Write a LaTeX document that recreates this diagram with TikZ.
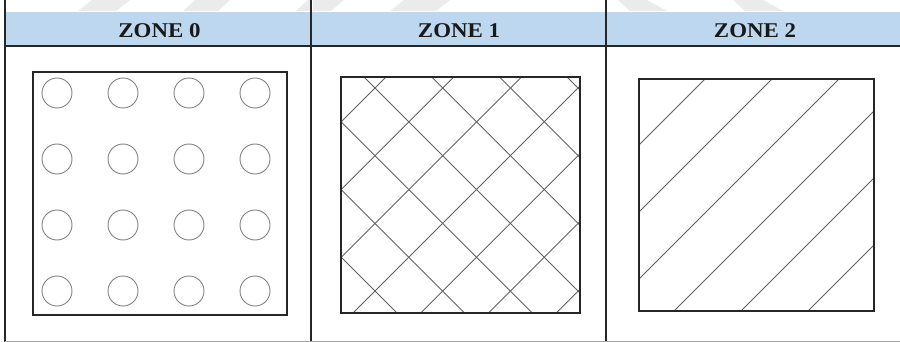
\documentclass[tikz,border=0pt]{standalone}
\usepackage{fontspec}
\setmainfont{Liberation Serif}
\definecolor{hdrblue}{HTML}{BDD7EE}
\definecolor{wmgray}{HTML}{EBEBEB}
\begin{document}
\begin{tikzpicture}[x=1pt,y=-1pt,
  frame/.style={line width=1.4pt, draw=black!85},
  rule/.style={line width=1.3pt, draw=black!85},
  hatch/.style={line width=0.9pt, draw=black!62},
  ring/.style={line width=0.9pt, draw=black!50},
  wm/.style={fill=wmgray},
  hdr/.style={font=\bfseries\fontsize{21}{25}\selectfont, anchor=base, inner sep=0pt, text=black!90}]
\useasboundingbox (0,0) rectangle (900,342);
% faint watermark pieces
\fill[wm] (78,11) -- (116,11) -- (130,0) -- (92,0) -- cycle;
\fill[wm] (183,11) -- (218,11) -- (230,0) -- (195,0) -- cycle;
\fill[wm] (296,11) -- (310,11) -- (310,0) -- (308,0) -- cycle;
\fill[wm] (313,11) -- (331,11) -- (344,0) -- (313,0) -- cycle;
\fill[wm] (390,11) -- (436,11) -- (450,0) -- (404,0) -- cycle;
\fill[wm] (618,0) -- (647,0) -- (667,11) -- (630,11) -- cycle;
\fill[wm] (733,0) -- (763,0) -- (783,11) -- (745,11) -- cycle;
% header band
\fill[hdrblue] (5,12) rectangle (900,46);
% table rules
\draw[rule] (5,46) -- (900,46);
\draw[rule] (5,0) -- (5,342);
\draw[rule] (311,0) -- (311,342);
\draw[rule] (606,0) -- (606,342);
\draw[line width=1pt, draw=black!35] (5,341) -- (900,341);
% headers
\node[hdr] (h0) at (159.5,38) {\scalebox{1.09}[1]{ZONE 0}};
\node[hdr] (h1) at (459,38) {\scalebox{1.09}[1]{ZONE 1}};
\node[hdr] (h2) at (755,38) {\scalebox{1.09}[1]{ZONE 2}};
% zone 0: circles
\foreach \x in {57,123,189,255}
  \foreach \y in {93,159,225,291}
    \draw[ring] (\x,\y) circle[radius=15];
\draw[frame] (33,72) rectangle (287,315);
% zone 1: cross hatching
\begin{scope}
  \clip (341,77) rectangle (580,313);
  \foreach \k in {-3,...,3} {
    \pgfmathsetmacro\c{287+67.7*\k}
    \draw[hatch] (\c+40,40) -- (\c+340,340);
  }
  \foreach \k in {0,...,6} {
    \pgfmathsetmacro\d{463+67.7*\k}
    \draw[hatch] (\d-40,40) -- (\d-340,340);
  }
\end{scope}
\draw[frame] (341,77) rectangle (580,313);
% zone 2: single hatching
\begin{scope}
  \clip (639,79) rectangle (874,311);
  \foreach \k in {0,...,5} {
    \pgfmathsetmacro\d{784+67*\k}
    \draw[hatch] (\d-40,40) -- (\d-340,340);
  }
\end{scope}
\draw[frame] (639,79) rectangle (874,311);
\end{tikzpicture}
\end{document}
